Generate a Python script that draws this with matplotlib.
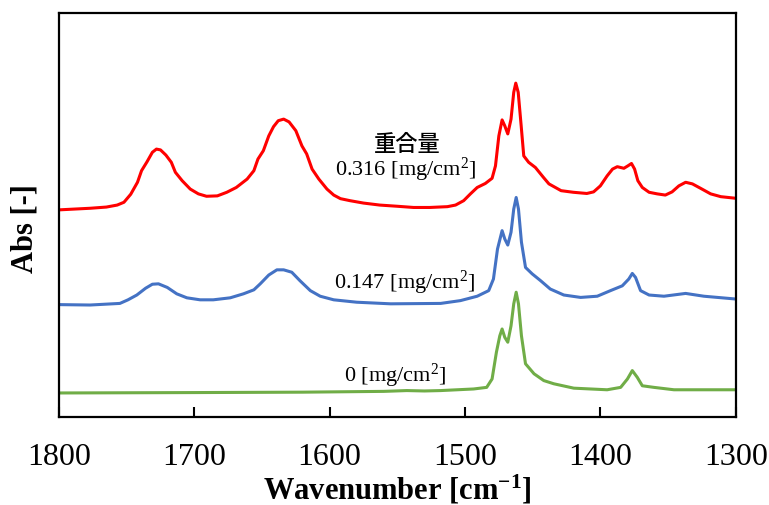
import matplotlib
matplotlib.use('Agg')
import matplotlib.pyplot as plt
import numpy as np

plt.rcParams['font.family'] = ['Liberation Serif', 'DejaVu Serif']
plt.rcParams['mathtext.fontset'] = 'custom'
plt.rcParams['mathtext.rm'] = 'Liberation Serif'
plt.rcParams['mathtext.bf'] = 'Liberation Serif:bold'
plt.rcParams['mathtext.it'] = 'Liberation Serif:italic'

# spectra (offset absorbance, arbitrary units)
wn_red = [1800, 1777, 1765, 1757, 1752, 1747, 1742, 1739, 1735, 1731, 1728, 1725, 1721,
          1717, 1714, 1709, 1703, 1697, 1691, 1683, 1676, 1669, 1661, 1656, 1653, 1649,
          1645, 1641.5, 1638, 1634, 1630, 1625, 1620.5, 1617, 1613, 1608, 1602, 1597,
          1592, 1585, 1575, 1563, 1550, 1538, 1526, 1513, 1507, 1501, 1496, 1491, 1485,
          1480, 1477.5, 1475, 1472.6, 1470.6, 1468.4, 1466, 1464, 1462.5, 1460.7, 1458.5,
          1456.6, 1453, 1448, 1442, 1438, 1429, 1420, 1410, 1405, 1400, 1395, 1391,
          1387.5, 1382.6, 1379.7, 1377, 1374.7, 1372.3, 1369, 1364, 1358, 1352, 1347,
          1342, 1337, 1332, 1326, 1318.5, 1311, 1300]
abs_red = [0.518, 0.522, 0.525, 0.530, 0.537, 0.557, 0.587, 0.616, 0.638, 0.662, 0.670,
           0.668, 0.655, 0.637, 0.612, 0.591, 0.570, 0.558, 0.552, 0.553, 0.562, 0.574,
           0.595, 0.616, 0.645, 0.666, 0.703, 0.726, 0.741, 0.745, 0.738, 0.716, 0.678,
           0.658, 0.620, 0.595, 0.570, 0.555, 0.546, 0.541, 0.535, 0.530, 0.527, 0.524,
           0.524, 0.526, 0.530, 0.541, 0.558, 0.574, 0.584, 0.597, 0.628, 0.703, 0.743,
           0.728, 0.708, 0.745, 0.812, 0.835, 0.812, 0.728, 0.653, 0.637, 0.624, 0.599,
           0.583, 0.566, 0.562, 0.559, 0.563, 0.578, 0.603, 0.620, 0.626, 0.622, 0.628,
           0.634, 0.620, 0.591, 0.574, 0.562, 0.558, 0.555, 0.563, 0.578, 0.587, 0.583,
           0.572, 0.558, 0.551, 0.547]

wn_blue = [1800, 1777, 1755, 1749, 1742.5, 1736, 1731, 1726.5, 1720, 1713, 1705.5, 1695.7,
           1686, 1673.5, 1663.7, 1656, 1651.3, 1645, 1639, 1634, 1628, 1622, 1614.3, 1607,
           1597, 1580, 1555, 1518, 1503.4, 1491, 1482.5, 1479, 1476, 1472.6, 1470.6, 1468.4,
           1466, 1464, 1462.2, 1460.5, 1458.3, 1455.3, 1450.4, 1444.2, 1437, 1427, 1414.6,
           1402.3, 1392.5, 1383.8, 1379, 1376.4, 1374, 1370.3, 1364, 1353, 1337, 1323.5, 1300]
abs_blue = [0.281, 0.280, 0.284, 0.293, 0.305, 0.322, 0.332, 0.333, 0.324, 0.308, 0.298,
            0.293, 0.293, 0.298, 0.308, 0.318, 0.333, 0.355, 0.368, 0.368, 0.362, 0.341,
            0.316, 0.302, 0.293, 0.287, 0.283, 0.284, 0.291, 0.302, 0.316, 0.345, 0.420,
            0.466, 0.445, 0.430, 0.462, 0.520, 0.549, 0.520, 0.437, 0.374, 0.358, 0.341,
            0.320, 0.305, 0.299, 0.302, 0.316, 0.328, 0.345, 0.359, 0.349, 0.316, 0.305,
            0.302, 0.309, 0.302, 0.295]

wn_green = [1800, 1700, 1620, 1560, 1543, 1530, 1518, 1493.6, 1484, 1480, 1476.8, 1474.3,
            1472.6, 1470.6, 1468.4, 1466, 1464, 1462.2, 1460.5, 1458.3, 1455.3, 1449,
            1441.8, 1434.4, 1419.6, 1395, 1385, 1380, 1376.4, 1372.7, 1369, 1360.4,
            1345.6, 1300]
abs_green = [0.060, 0.061, 0.062, 0.064, 0.066, 0.065, 0.066, 0.070, 0.074, 0.095, 0.162,
             0.203, 0.220, 0.199, 0.187, 0.228, 0.283, 0.312, 0.283, 0.203, 0.133, 0.108,
             0.091, 0.083, 0.072, 0.068, 0.074, 0.095, 0.116, 0.099, 0.078, 0.074, 0.068,
             0.068]

labels = ['0.316 [mg/cm$^{\\mathrm{2}}$]', '0.147 [mg/cm$^{\\mathrm{2}}$]', '0 [mg/cm$^{\\mathrm{2}}$]']
x_ticks = [1800, 1700, 1600, 1500, 1400, 1300]

fig = plt.figure(figsize=(7.69, 5.06), dpi=100, facecolor='w')
ax = fig.add_axes([0.0767, 0.174, 0.880, 0.798])

# Plot #
line_kw = dict(linewidth=2.2, solid_joinstyle='round', solid_capstyle='round')
ax.plot(wn_red, abs_red, color='#FF0000', **line_kw)
ax.plot(wn_blue, abs_blue, color='#4472C4', **line_kw)
ax.plot(wn_green, abs_green, color='#70AD47', **line_kw)

# labels on the curves
ax.text(1543, 0.684, '重合量', family=['Noto Sans CJK JP'], fontsize=16,
        fontweight='medium', ha='center', va='center')
ax.text(1544, 0.620, labels[0], fontsize=16, ha='center', va='center')
ax.text(1545, 0.338, labels[1], fontsize=16, ha='center', va='center')
ax.text(1552, 0.106, labels[2], fontsize=16, ha='center', va='center')

# X-As #
ax.set_xlim(1800, 1300)
ax.set_xticks(x_ticks)
ax.tick_params(axis='x', direction='in', length=7, width=1.5, labelsize=23, pad=18)
ax.set_xlabel('Wavenumber [cm$^{\\mathbf{-1}}$]', fontsize=22, fontweight='bold', labelpad=1)

# Y-As #
ax.set_ylim(0, 1.01)
ax.set_yticks([])
ax.set_ylabel('Abs [-]', fontsize=22, fontweight='bold')
ax.yaxis.set_label_coords(-0.029, 0.468)

for s in ax.spines.values():
    s.set_linewidth(1.6)

plt.savefig('out.png', dpi=100)
plt.close()
